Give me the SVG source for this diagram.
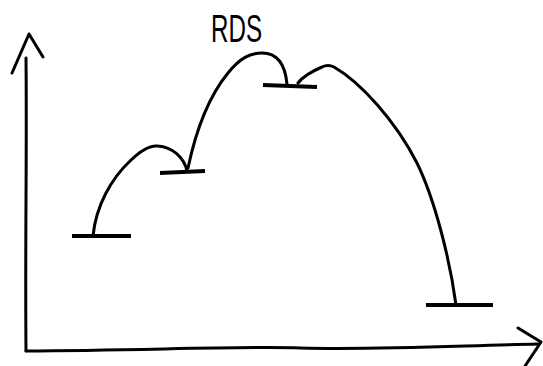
<svg xmlns="http://www.w3.org/2000/svg" width="543" height="366" viewBox="0 0 543 366">
<style>
.ln{fill:none;stroke:#000;stroke-width:3;stroke-linecap:round;stroke-linejoin:round}
.lv{fill:none;stroke:#000;stroke-width:4;stroke-linecap:butt}
.lbl{font-family:"Liberation Sans",Arial,sans-serif;font-size:38px;fill:#000}
</style>
<rect width="543" height="366" fill="#fff"/>
<g id="axes">
<path class="ln" d="M26,58 C27,150 25,250 26,351"/>
<path class="ln" d="M12,73 L29,34 L43,57"/>
<path class="ln" d="M26,351 C150,350 250,346 300,348 C380,350 450,346 538,344"/>
<path class="ln" d="M518,328 L541,342 L525,366"/>
</g>
<g id="connectors">
<path class="ln" d="M93,236 C96,205 112,178 130,161 C142,149 150,145 158,146 C172,147 184,157 187,171"/>
<path class="ln" d="M188,168 C196,130 210,95 228,73 C240,58 250,53 262,53 C277,53 285,63 287,84"/>
<path class="ln" d="M298,83 C304,75 315,70 322,67 C326,65 330,65 334,67 C360,82 395,120 417,163 C435,200 450,260 456,305"/>
</g>
<g id="level1"><path class="lv" d="M72,236 L131,236"/></g>
<g id="level2"><path class="lv" d="M160,173 L205,171"/></g>
<g id="level3"><path class="lv" d="M263,85 L317,87"/></g>
<g id="level4"><path class="lv" d="M426,305 L493,305"/></g>
<g id="label"><text class="lbl" x="211" y="42" textLength="51" lengthAdjust="spacingAndGlyphs">RDS</text></g>
</svg>
